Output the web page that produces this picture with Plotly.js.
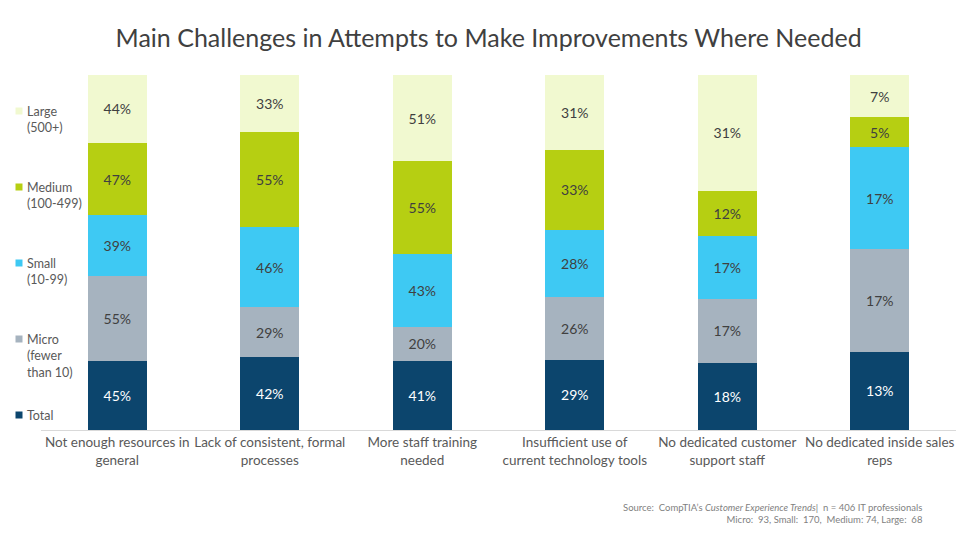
<!DOCTYPE html>
<html>
<head>
<meta charset="utf-8">
<script src="https://cdn.plot.ly/plotly-3.0.1.min.js"></script>
<style>html,body{margin:0;padding:0;background:#fff;}#chart{width:960px;height:540px;}</style>
</head>
<body>
<div id="chart"></div>
<script>
const categories = [
  "Not enough resources in<br>general",
  "Lack of consistent, formal<br>processes",
  "More staff training<br>needed",
  "Insufficient use of<br>current technology tools",
  "No dedicated customer<br>support staff",
  "No dedicated inside sales<br>reps"
];
const seriesNames = ["Total", "Micro<br>(fewer<br>than 10)", "Small<br>(10-99)", "Medium<br>(100-499)", "Large<br>(500+)"];
const totalVals  = [45, 42, 41, 29, 18, 13];
const microVals  = [55, 29, 20, 26, 17, 17];
const smallVals  = [39, 46, 43, 28, 17, 17];
const mediumVals = [47, 55, 55, 33, 12, 5];
const largeVals  = [44, 33, 51, 31, 31, 7];
const colors = ["#0c456d", "#a6b3bf", "#3ec9f3", "#b6cf12", "#f1f9d0"];
const textColors = ["#ffffff", "#404040", "#404040", "#404040", "#404040"];

const allVals = [totalVals, microVals, smallVals, mediumVals, largeVals];
const font = "Lato, Open Sans, sans-serif";

const traces = allVals.map((vals, i) => ({
  type: "bar",
  name: seriesNames[i],
  x: categories,
  y: vals,
  text: vals.map(v => v + "%"),
  textposition: "inside",
  insidetextanchor: "middle",
  textangle: 0,
  constraintext: "none",
  textfont: {family: font, size: 14, color: textColors[i]},
  marker: {color: colors[i], line: {width: 0}},
  hoverinfo: "skip",
  showlegend: false
}));

// Custom legend (left side), Large on top down to Total at bottom
const legendTopPx = 111, legendStepPx = 76;
const plotTop = 75, plotH = 355;
const legendShapes = [];
const legendAnns = [];
for (let k = 0; k < 5; k++) {
  const i = 4 - k;
  const ypx = legendTopPx + k * legendStepPx;
  const yp = (plotTop + plotH - ypx) / plotH;
  legendShapes.push({
    type: "rect", xref: "paper", yref: "paper", layer: "above",
    x0: (15.5 - 41) / 915, x1: (22.5 - 41) / 915,
    y0: yp - 3.5 / plotH, y1: yp + 3.5 / plotH,
    fillcolor: colors[i], line: {width: 0}
  });
  legendAnns.push({
    xref: "paper", yref: "paper", x: (25 - 41) / 915, y: yp + 9 / plotH,
    xanchor: "left", yanchor: "top", align: "left", showarrow: false,
    text: seriesNames[i],
    font: {family: font, size: 12.5, color: "#595959"}
  });
}

const layout = {
  width: 960, height: 540,
  paper_bgcolor: "#ffffff", plot_bgcolor: "#ffffff",
  margin: {l: 41, r: 4, t: 75, b: 110},
  barmode: "stack",
  barnorm: "percent",
  bargap: 0.61,
  font: {family: font, color: "#595959"},
  title: {
    text: "Main Challenges in Attempts to Make Improvements Where Needed",
    font: {family: font, size: 25, color: "#404040"},
    x: 0.509, xanchor: "center", y: 0.93, yanchor: "middle", xref: "container"
  },
  xaxis: {
    showline: true, linecolor: "#d9d9d9", linewidth: 1,
    ticks: "", tickangle: 0, automargin: false,
    tickfont: {family: font, size: 13.5, color: "#595959"},
    fixedrange: true
  },
  yaxis: {range: [0, 100], visible: false, showgrid: false, zeroline: false, fixedrange: true},
  showlegend: false,
  shapes: legendShapes,
  annotations: legendAnns.concat([
    {
      xref: "paper", yref: "paper", x: (925 - 41) / 915, y: (430 - 500) / plotH,
      xanchor: "right", yanchor: "top", align: "right",
      showarrow: false,
      text: "Source:  CompTIA’s <i>Customer Experience Trends</i>|  n = 406 IT professionals<br>Micro:  93, Small:  170,  Medium: 74, Large:  68",
      font: {family: font, size: 9.5, color: "#7f7f7f"}
    }
  ])
};

Plotly.newPlot("chart", traces, layout, {displayModeBar: false, staticPlot: true});
</script>
</body>
</html>
